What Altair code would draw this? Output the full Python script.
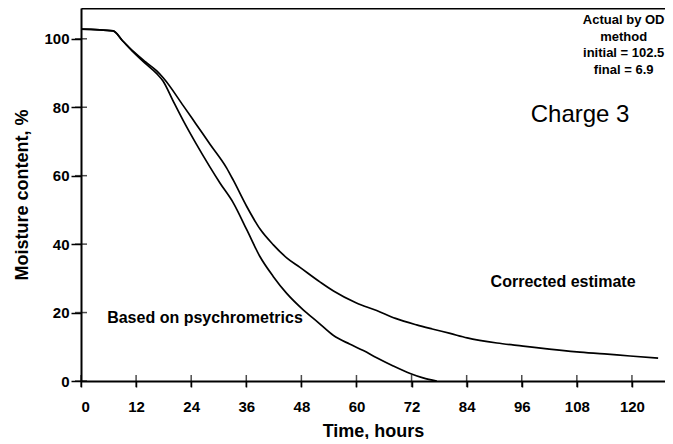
import altair as alt
import pandas as pd

# Corrected estimate curve (time in hours, moisture content %)
corr_t = [0, 7, 9, 11.4, 14, 16.5, 17.9, 22.3, 25, 28.1, 31.7, 33.2, 36.1, 39, 41.9,
          44.8, 47.7, 52.1, 55, 60, 64.4, 68.5, 73.1, 76.5, 80.4, 84.1, 90.6, 96.3,
          102, 108, 114, 119.6, 125.7]
corr_m = [102.8, 102.3, 99.5, 96.3, 93.3, 90.6, 88.6, 80.4, 75.2, 69.2, 62.3, 58.6, 51,
          44.4, 39.8, 36, 33.2, 28.9, 26.3, 22.8, 20.6, 18.3, 16.4, 15.2, 13.9, 12.6,
          11.1, 10.2, 9.3, 8.5, 7.9, 7.3, 6.7]

# Based on psychrometrics curve
psy_t = [0, 7, 9, 11.4, 14, 16.5, 17.9, 20, 22.3, 25, 28.1, 30.3, 33.2, 36.1, 39,
         41.9, 44.8, 48.4, 51.5, 55, 58.5, 61.5, 64.4, 68, 71.7, 74.5, 77.5]
psy_m = [102.8, 102.3, 99.5, 96.1, 92.8, 89.8, 87.6, 82, 76, 69.5, 62.5, 57.8, 52,
         44.2, 36.3, 30.5, 25.6, 20.8, 17.3, 13.3, 10.8, 8.9, 6.8, 4.4, 2.2, 0.9, 0]

x_ticks = [0, 12, 24, 36, 48, 60, 72, 84, 96, 108, 120]
y_ticks = [0, 20, 40, 60, 80, 100]

curve_labels = ["Based on psychrometrics", "Corrected estimate"]
curve_label_t = [5.7, 105]
curve_label_m = [18.4, 29]

note_lines = ["Actual  by OD", "method", "initial = 102.5", "final = 6.9"]
note_t = [118.2, 118.2, 118.2, 118.2]
note_m = [105.5, 100.6, 95.9, 91]

charge_text = ["Charge 3"]
charge_t = [108.7]
charge_m = [77.8]

FONT = "Liberation Sans"

df = pd.concat([
    pd.DataFrame({"t": corr_t, "m": corr_m, "s": "Corrected estimate"}),
    pd.DataFrame({"t": psy_t, "m": psy_m, "s": "Based on psychrometrics"}),
], ignore_index=True)

xs = alt.Scale(domain=[0, 127.2], nice=False, zero=False)
ys = alt.Scale(domain=[0, 109], nice=False)

lines = alt.Chart(df).mark_line(color="black", strokeWidth=1.7, interpolate="monotone").encode(
    x=alt.X("t:Q", scale=xs, axis=alt.Axis(orient="bottom", values=x_ticks, title="Time, hours",
                                            tickSize=6, labelPadding=12, titlePadding=8)),
    y=alt.Y("m:Q", scale=ys, axis=alt.Axis(orient="left", values=y_ticks, title="Moisture content, %",
                                            tickSize=10, labelPadding=2, titlePadding=12)),
    detail="s:N",
)

# inner halves of the crossing tick marks (placed on the axis baselines, value 0)
xt_df = pd.DataFrame({"t": x_ticks, "base": [0] * len(x_ticks)})
x_inner = alt.Chart(xt_df).mark_tick(orient="vertical", size=12, thickness=1.5, color="black").encode(
    x=alt.X("t:Q", scale=xs, axis=None),
    y=alt.Y("base:Q", scale=ys, axis=None),
)
yt_df = pd.DataFrame({"m": y_ticks, "base": [0] * len(y_ticks)})
y_inner = alt.Chart(yt_df).mark_tick(orient="horizontal", size=12, thickness=1.5, color="black").encode(
    y=alt.Y("m:Q", scale=ys, axis=None),
    x=alt.X("base:Q", scale=xs, axis=None),
)

frame = alt.Chart(df).mark_line(opacity=0).encode(
    x=alt.X("t:Q", scale=xs, axis=alt.Axis(orient="top", labels=False, ticks=False,
                                            domain=True, title=None)),
    y=alt.Y("m:Q", scale=ys, axis=None),
    detail="s:N",
)

lab_df = pd.DataFrame({"txt": curve_labels, "t": curve_label_t, "m": curve_label_m})
lab_left = alt.Chart(lab_df.iloc[[0]]).mark_text(
    font=FONT, fontWeight="bold", fontSize=16, align="left", baseline="middle", color="black"
).encode(x=alt.X("t:Q", scale=xs, axis=None), y=alt.Y("m:Q", scale=ys, axis=None), text="txt:N")
lab_center = alt.Chart(lab_df.iloc[[1]]).mark_text(
    font=FONT, fontWeight="bold", fontSize=16, align="center", baseline="middle", color="black"
).encode(x=alt.X("t:Q", scale=xs, axis=None), y=alt.Y("m:Q", scale=ys, axis=None), text="txt:N")

note_df = pd.DataFrame({"txt": note_lines, "t": note_t, "m": note_m})
note = alt.Chart(note_df).mark_text(
    font=FONT, fontWeight="bold", fontSize=13, align="center", baseline="middle", color="black"
).encode(x=alt.X("t:Q", scale=xs, axis=None), y=alt.Y("m:Q", scale=ys, axis=None), text="txt:N")

charge_df = pd.DataFrame({"txt": charge_text, "t": charge_t, "m": charge_m})
charge = alt.Chart(charge_df).mark_text(
    font=FONT, fontSize=24, align="center", baseline="middle", color="black"
).encode(x=alt.X("t:Q", scale=xs, axis=None), y=alt.Y("m:Q", scale=ys, axis=None), text="txt:N")

chart = alt.layer(lines, frame, x_inner, y_inner, lab_left, lab_center, note, charge).resolve_axis(
    x="independent", y="independent"
).properties(
    width=584, height=373,
    autosize=alt.AutoSizeParams(type="none"),
    padding={"left": 73, "top": 0, "right": 0, "bottom": 58},
).configure_view(stroke=None).configure_axis(
    grid=False, domainColor="black", domainWidth=2, tickColor="black", tickWidth=1.5,
    labelFont=FONT, labelFontWeight="bold", labelFontSize=15, labelColor="black",
    titleFont=FONT, titleFontWeight="bold", titleFontSize=18, titleColor="black",
)

chart.save("out.html", embed_options={"renderer": "svg", "actions": False})
